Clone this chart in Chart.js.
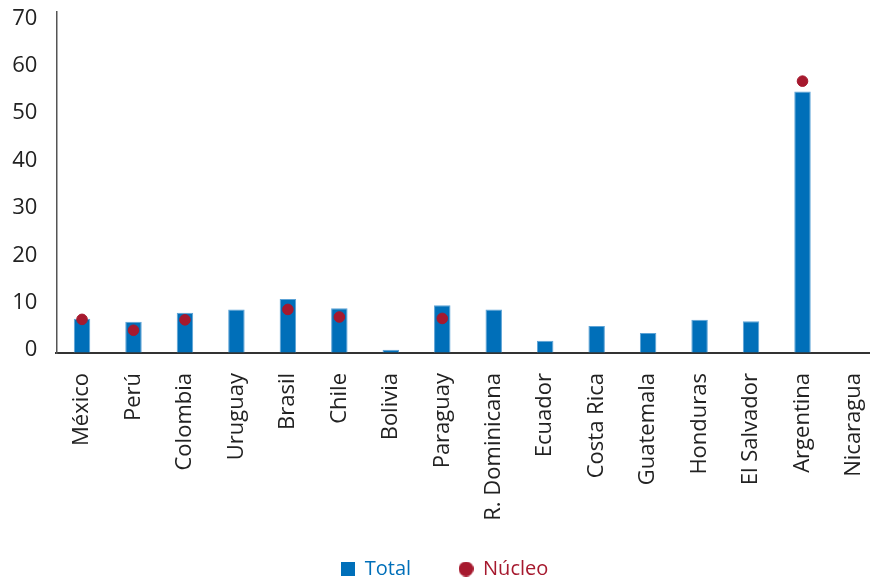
<!DOCTYPE html>
<html>
<head>
<meta charset="utf-8">
<script src="https://cdn.jsdelivr.net/npm/chart.js@4"></script>
<style>
html,body{margin:0;padding:0;background:#fff;overflow:hidden;}
#wrap{width:870px;height:581px;position:relative;overflow:hidden;}
</style>
</head>
<body>
<div id="wrap"><canvas id="c" width="886" height="581"></canvas></div>
<script>
const categories = ["México","Perú","Colombia","Uruguay","Brasil","Chile","Bolivia","Paraguay","R. Dominicana","Ecuador","Costa Rica","Guatemala","Honduras","El Salvador","Argentina","Nicaragua"];
const totalValues = [7.25, 6.6, 8.5, 9.2, 11.4, 9.45, 0.7, 10.1, 9.2, 2.6, 5.7, 4.2, 7.0, 6.7, 55.2, null];
const nucleoValues = [7.1, 4.8, 7.0, null, 9.2, 7.6, null, 7.3, null, null, null, null, null, null, 57.4, null];
const yTicks = [0, 10, 20, 30, 40, 50, 60, 70];

const BLUE = "#006FB9";
const RED = "#A6192E";
const FONT = "'Open Sans', sans-serif";

function markerSquare(size, color) {
  const c = document.createElement("canvas");
  c.width = size; c.height = size;
  const g = c.getContext("2d");
  g.fillStyle = color; g.fillRect(0, 0, size, size);
  return c;
}
function markerCircle(size, color) {
  const c = document.createElement("canvas");
  c.width = size; c.height = size;
  const g = c.getContext("2d");
  g.fillStyle = color; g.beginPath();
  g.arc(size / 2, size / 2, size / 2, 0, Math.PI * 2); g.fill();
  return c;
}
const legendSquare = markerSquare(14, BLUE);
const legendCircle = markerCircle(15, RED);

new Chart(document.getElementById("c"), {
  data: {
    labels: categories,
    datasets: [
      {
        type: "bar",
        label: "Total",
        data: totalValues,
        backgroundColor: BLUE,
        borderColor: "#5DA3D6",
        borderWidth: {top: 1, left: 1, right: 1, bottom: 0},
        categoryPercentage: 1,
        barPercentage: 0.32,
        order: 2
      },
      {
        type: "line",
        label: "Núcleo",
        data: nucleoValues,
        showLine: false,
        pointRadius: 5.3,
        pointHoverRadius: 5.3,
        pointBackgroundColor: RED,
        pointBorderColor: RED,
        backgroundColor: RED,
        borderColor: RED,
        order: 1
      }
    ]
  },
  options: {
    responsive: false,
    animation: false,
    events: [],
    layout: {padding: {top: 12, right: 0, left: 3, bottom: -8}},
    plugins: {
      tooltip: {enabled: false},
      legend: {
        position: "bottom",
        labels: {
          usePointStyle: true,
          boxWidth: 14,
          boxHeight: 14,
          padding: 48,
          font: {family: FONT, size: 20},
          sort: (a, b) => a.datasetIndex - b.datasetIndex,
          generateLabels(chart) {
            const items = Chart.defaults.plugins.legend.labels.generateLabels(chart);
            items.forEach((it) => {
              const first = it.datasetIndex === 0;
              const col = first ? BLUE : RED;
              it.fontColor = col;
              it.fillStyle = col;
              it.strokeStyle = col;
              it.lineWidth = 0;
              it.pointStyle = first ? legendSquare : legendCircle;
            });
            return items;
          }
        }
      }
    },
    scales: {
      x: {
        grid: {display: true, drawOnChartArea: false, drawTicks: true, tickLength: 20, tickColor: "rgba(0,0,0,0)"},
        border: {display: true, color: "#333", width: 2},
        ticks: {
          minRotation: 90,
          maxRotation: 90,
          padding: 0,
          color: "#222",
          font: {family: FONT, size: 22},
          autoSkip: false
        },
        afterFit(scale) {
          scale.height = 158;
          scale.paddingLeft = 0;
          scale.paddingRight = 0;
          scale._computeLabelArea = () => undefined;
        }
      },
      y: {
        min: 0,
        max: 72,
        grid: {display: true, drawOnChartArea: false, drawTicks: true, tickLength: 19, tickColor: "rgba(0,0,0,0)"},
        border: {display: true, color: "#555", width: 1.5},
        afterBuildTicks(scale) { scale.ticks = yTicks.map(v => ({value: v})); },
        ticks: {
          padding: 0,
          labelOffset: -3,
          color: "#222",
          font: {family: FONT, size: 22}
        },
        afterFit(scale) { scale.width = 53.3; scale.paddingTop = 0; scale.paddingBottom = 0; }
      }
    }
  }
});
</script>
</body>
</html>
